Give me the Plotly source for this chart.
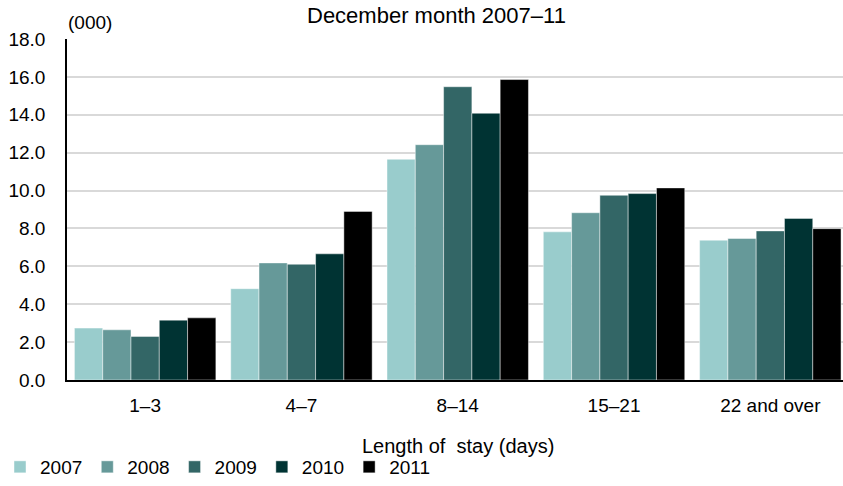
import plotly.graph_objects as go

categories = ["1–3", "4–7", "8–14", "15–21", "22 and over"]
years = ["2007", "2008", "2009", "2010", "2011"]
values_2007 = [2.74, 4.82, 11.65, 7.82, 7.38]
values_2008 = [2.65, 6.18, 12.42, 8.83, 7.47]
values_2009 = [2.30, 6.11, 15.48, 9.75, 7.87]
values_2010 = [3.16, 6.66, 14.08, 9.84, 8.53]
values_2011 = [3.28, 8.90, 15.86, 10.14, 7.99]
series = [values_2007, values_2008, values_2009, values_2010, values_2011]
colors = ["#99CCCC", "#669999", "#336666", "#003333", "#000000"]
y_ticks = [0, 2, 4, 6, 8, 10, 12, 14, 16, 18]
y_tick_labels = [f"{v:.1f}" for v in y_ticks]

FONT = "Liberation Sans, Arial, sans-serif"

fig = go.Figure()
for name, vals, col in zip(years, series, colors):
    fig.add_trace(go.Bar(
        x=categories, y=vals, name=name,
        marker=dict(color=col, line=dict(color="rgba(255,255,255,0.6)", width=0.75)),
    ))

W, H = 843, 486
ml, mr, mt, mb = 63.5, 0, 39, 104
pw = W - ml - mr
ph = H - mt - mb

def px_x(p):
    return (p - ml) / pw

def px_y(p):
    return (H - mb - p) / ph

fig.update_layout(
    width=W, height=H,
    margin=dict(l=ml, r=mr, t=mt, b=mb, pad=0),
    paper_bgcolor="white", plot_bgcolor="white",
    barmode="group", bargap=0.095, bargroupgap=0,
    font=dict(family=FONT, size=19, color="#000000"),
    showlegend=True,
    legend=dict(
        orientation="h", x=px_x(-4), xanchor="left", y=px_y(470), yanchor="middle",
        font=dict(size=19), bgcolor="rgba(0,0,0,0)", itemwidth=30, tracegroupgap=0,
    ),
    xaxis=dict(
        range=[-0.5, 4.465], showgrid=False, showline=True, linecolor="#000000",
        linewidth=2, ticks="", tickfont=dict(size=19), ticklabelstandoff=7,
        fixedrange=True,
    ),
    yaxis=dict(
        range=[0, 18], tickvals=y_ticks, ticktext=y_tick_labels,
        showgrid=True, gridcolor="#D9D9D9", gridwidth=1.5,
        showline=True, linecolor="#000000", linewidth=1.5, zeroline=False,
        ticks="", tickfont=dict(size=19), ticklabelstandoff=16,
    ),
    annotations=[
        dict(text="December month 2007–11", xref="paper", yref="paper",
             x=px_x(434.5), y=px_y(1), xanchor="center", yanchor="top",
             showarrow=False, font=dict(size=22)),
        dict(text="(000)", xref="paper", yref="paper",
             x=px_x(87), y=px_y(22), xanchor="center", yanchor="middle",
             showarrow=False, font=dict(size=19)),
        dict(text="Length of  stay (days)", xref="paper", yref="paper",
             x=px_x(456.5), y=px_y(448), xanchor="center", yanchor="middle",
             showarrow=False, font=dict(size=20)),
    ],
)

fig.write_html("out.html", config={"displayModeBar": False},
               post_script="document.body.style.margin='0';")
